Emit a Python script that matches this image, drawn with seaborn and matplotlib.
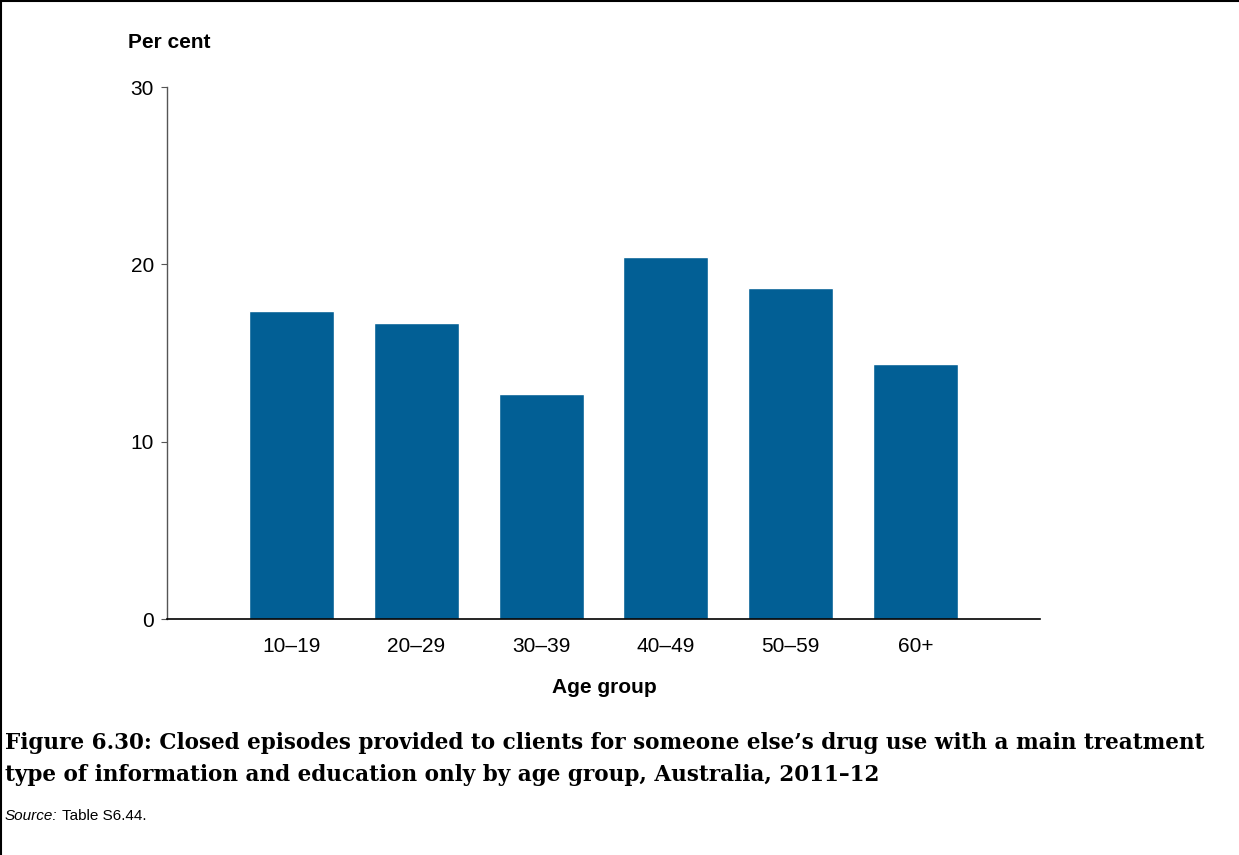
import pandas as pd
import matplotlib.pyplot as plt
import seaborn as sns
from matplotlib.lines import Line2D

# data
age_groups = ["10–19", "20–29", "30–39", "40–49", "50–59", "60+"]
per_cent = [17.4, 16.7, 12.7, 20.4, 18.7, 14.4]
y_ticks = [0, 10, 20, 30]

df = pd.DataFrame({"Age group": age_groups, "Per cent": per_cent})

sns.set_theme(style="white")
plt.rcParams['font.family'] = ['Liberation Sans', 'DejaVu Sans']
plt.rcParams['text.color'] = 'black'

fig = plt.figure(figsize=(12.39, 8.55), dpi=100)
ax = fig.add_axes([0.1348, 0.2757, 0.8394 - 0.1348, 0.8982 - 0.2757])

sns.barplot(data=df, x="Age group", y="Per cent", color="#025f95",
            saturation=1, width=0.68, ax=ax, order=age_groups)

ax.set_xlim(-1, 6)
ax.set_ylim(0, 30)
ax.set_yticks(y_ticks)
ax.set_xlabel("")
ax.set_ylabel("")

for s in ["top", "right"]:
    ax.spines[s].set_visible(False)
ax.spines["left"].set_color("#555555")
ax.spines["left"].set_linewidth(1.0)
ax.spines["bottom"].set_color("black")
ax.spines["bottom"].set_linewidth(1.2)

ax.tick_params(axis="y", left=True, length=4.5, width=0.8, color="#555555",
               pad=5, labelsize=15, labelcolor="black")
ax.tick_params(axis="x", bottom=False, length=0, pad=13, labelsize=15,
               labelcolor="black")

# axis titles
fig.text(128 / 1239, 1 - 42 / 855, "Per cent", fontsize=15, fontweight="bold",
         ha="left", va="center")
fig.text(604 / 1239, 1 - 687 / 855, "Age group", fontsize=15, fontweight="bold",
         ha="center", va="center")

# caption
cap_font = dict(fontsize=15.5, fontweight="bold", family=["DejaVu Serif"],
                ha="left", va="center")
fig.text(5 / 1239, 1 - 743 / 855,
         "Figure 6.30: Closed episodes provided to clients for someone else\u2019s drug use with a main treatment",
         **cap_font)
fig.text(5 / 1239, 1 - 775 / 855,
         "type of information and education only by age group, Australia, 2011\u201312",
         **cap_font)

src = fig.text(5 / 1239, 1 - 816 / 855, "Source:", fontsize=11, style="italic",
               ha="left", va="center")
fig.canvas.draw()
bb = src.get_window_extent().transformed(fig.transFigure.inverted())
fig.text(bb.x1 + 4 / 1239, 1 - 816 / 855, "Table S6.44.", fontsize=11,
         ha="left", va="center")

# frame lines at top and left of the figure
fig.add_artist(Line2D([0, 1], [0.999, 0.999], transform=fig.transFigure,
                      color="black", linewidth=1.5))
fig.add_artist(Line2D([0.0008, 0.0008], [0, 1], transform=fig.transFigure,
                      color="black", linewidth=1.5))

fig.savefig("out.png", dpi=100)
